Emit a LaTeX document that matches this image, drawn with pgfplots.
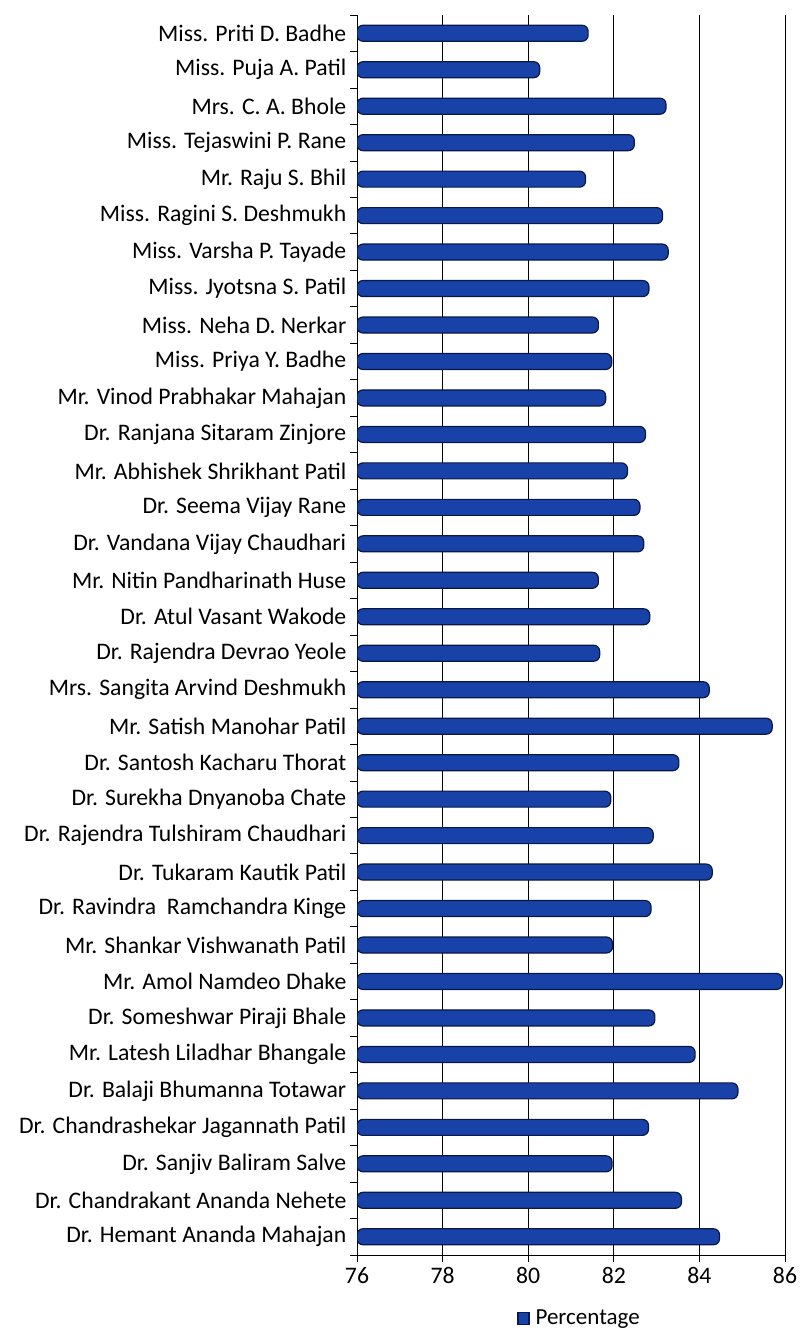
\documentclass[border=0pt]{standalone}
\usepackage{fontspec}
\setmainfont{Carlito}
\usepackage{pgfplots}
\pgfplotsset{compat=1.18}
\definecolor{barblue}{RGB}{24,66,168}
\definecolor{bardark}{RGB}{8,24,72}
\begin{document}
\begin{tikzpicture}
\useasboundingbox (0,0) rectangle (803pt,1337pt);
\begin{axis}[
  at={(357pt,82pt)}, anchor=south west,
  width=428pt, height=1240pt, scale only axis,
  xbar, bar shift=0pt, bar width=16pt,
  xmin=76, xmax=86, ymin=0.5, ymax=34.5,
  y dir=reverse,
  xtick={76,78,...,86},
  ytick={1,...,34},
  yticklabels={Miss. Priti D. Badhe, Miss. Puja A. Patil, Mrs. C. A. Bhole, Miss. Tejaswini P. Rane, Mr. Raju S. Bhil, Miss. Ragini S. Deshmukh, Miss. Varsha P. Tayade, Miss. Jyotsna S. Patil, Miss. Neha D. Nerkar, Miss. Priya Y. Badhe, Mr. Vinod Prabhakar Mahajan, Dr. Ranjana Sitaram Zinjore, Mr. Abhishek Shrikhant Patil, Dr. Seema Vijay Rane, Dr. Vandana Vijay Chaudhari, Mr. Nitin Pandharinath Huse, Dr. Atul Vasant Wakode, Dr. Rajendra Devrao Yeole, Mrs. Sangita Arvind Deshmukh, Mr. Satish Manohar Patil, Dr. Santosh Kacharu Thorat, Dr. Surekha Dnyanoba Chate, Dr. Rajendra Tulshiram Chaudhari, Dr. Tukaram Kautik Patil, Dr. Ravindra~ Ramchandra Kinge, Mr. Shankar Vishwanath Patil, Mr. Amol Namdeo Dhake, Dr. Someshwar Piraji Bhale, Mr. Latesh Liladhar Bhangale, Dr. Balaji Bhumanna Totawar, Dr. Chandrashekar Jagannath Patil, Dr. Sanjiv Baliram Salve, Dr. Chandrakant Ananda Nehete, Dr. Hemant Ananda Mahajan},
  minor ytick={0.5,1.5,...,34.5},
  major tick length=7pt,
  minor tick length=7pt,
  tick align=outside,
  every major y tick/.style={draw=none},
  tick style={black, line width=0.7pt},
  axis x line*=bottom, axis y line*=left,
  axis line style={black, line width=0.7pt},
  xmajorgrids, grid style={black, line width=0.8pt},
  ticklabel style={font=\fontsize{23.7}{27}\selectfont},
  yticklabel style={inner sep=3.5pt},
  xticklabel style={yshift=-2pt},
  /pgf/number format/assume math mode=true,
  legend style={at={(0.52,-0.051)}, anchor=center, draw=none, font=\fontsize{23}{26}\selectfont},
  legend image code/.code={\fill[barblue, draw=bardark, sharp corners] (0pt,-6pt) rectangle (11pt,6pt);},
]
\addplot[fill=barblue, draw=bardark, line width=1.2pt, rounded corners=6pt] coordinates {
(81.40,1) (80.27,2) (83.22,3) (82.48,4) (81.34,5) (83.14,6) (83.27,7) (82.82,8) (81.64,9) (81.95,10)
(81.81,11) (82.74,12) (82.32,13) (82.61,14) (82.70,15) (81.64,16) (82.84,17) (81.67,18) (84.23,19) (85.70,20)
(83.52,21) (81.93,22) (82.92,23) (84.30,24) (82.87,25) (81.97,26) (85.94,27) (82.96,28) (83.90,29) (84.90,30)
(82.81,31) (81.96,32) (83.58,33) (84.47,34)
};
\addlegendentry{\hspace{4pt}Percentage}
\end{axis}
\end{tikzpicture}
\end{document}
